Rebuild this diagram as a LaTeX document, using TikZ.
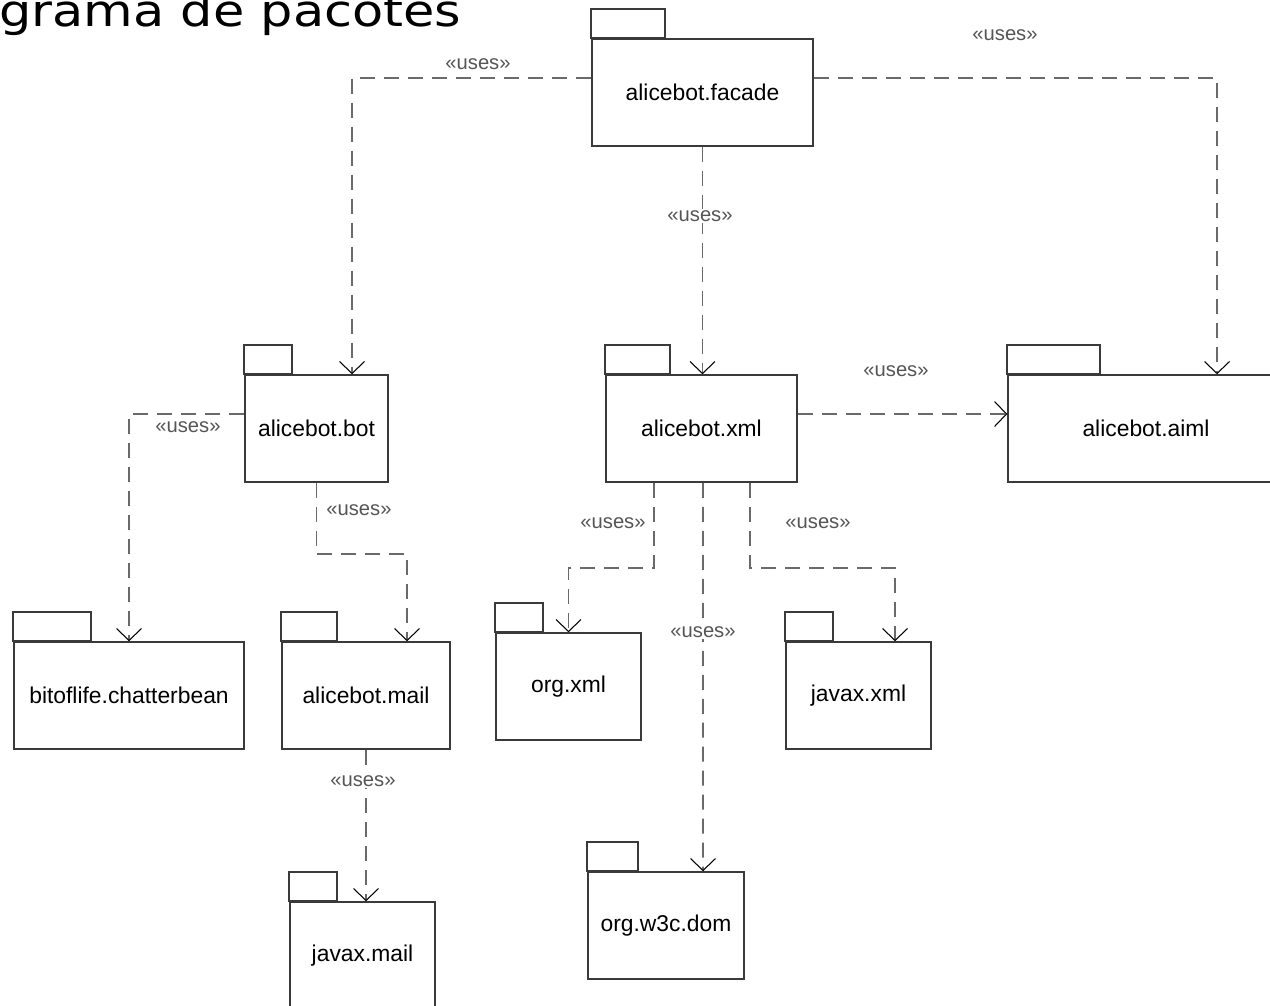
\documentclass[tikz,border=0pt]{standalone}
\usepackage{fontspec}
\setmainfont{Liberation Sans}
\newfontfamily\titlefont[FakeStretch=1.16]{DejaVu Sans}
\usetikzlibrary{positioning, calc, arrows.meta}
\definecolor{boxc}{HTML}{3A3A3A}
\definecolor{linec}{HTML}{6A6A6A}
\definecolor{lblc}{HTML}{555555}

\begin{document}
\begin{tikzpicture} [x=0.02cm, y=-0.02cm,
  pkg/.style={draw=boxc, line width=0.9pt, minimum width=#1*0.2mm, minimum height=21.4mm, inner sep=0, font=\fontsize{13}{15}\selectfont},
  tab/.style={draw=boxc, line width=0.9pt},
  uses/.style={draw=linec, line width=0.9pt, dash pattern=on 3mm off 1.8mm, -{Straight Barb[length=2.4mm, width=5mm, line width=0.6pt, color=black]}},
  lbl/.style={fill=white, text=lblc, inner sep=1pt, font=\fontsize{11.5}{13}\selectfont}]
  \useasboundingbox (0,0) rectangle (1270,1005);
  \clip (0,0) rectangle (1270,1005);

  \draw (-1,26) node[anchor=base west, inner sep=0, font=\titlefont\fontsize{25}{30}\selectfont](title) {grama de pacotes};

  \draw (702.5,92.5) node[pkg=221](fac)   {alicebot.facade};
  \draw (316.5,428.5) node[pkg=143](bot)  {alicebot.bot};
  \draw (701.5,428.5) node[pkg=191](xml)  {alicebot.xml};
  \draw (1146,428.5) node[pkg=276](aiml)  {alicebot.aiml};
  \draw (129,695.5)  node[pkg=230](chat)  {bitoflife.chatterbean};
  \draw (366,695.5)  node[pkg=168](mail)  {alicebot.mail};
  \draw (362.5,955.5) node[pkg=145](jmail) {javax.mail};
  \draw (568.5,686.5) node[pkg=145](oxml) {org.xml};
  \draw (858.5,695.5) node[pkg=145](jxml) {javax.xml};
  \draw (666,925.5)  node[pkg=156](dom)   {org.w3c.dom};

  \foreach \n/\w in {fac/74, bot/48, xml/65, aiml/93, chat/78, mail/56, jmail/48, oxml/48, jxml/48, dom/51}
    \draw[tab] (\n.north west) rectangle ++(\w,-29);

  \draw[uses] ($(fac.west)+(0,-14.5)$) -| ($(bot.north)+(35.5,0)$);
  \draw[uses] ($(fac.east)+(0,-14.5)$) -| ($(aiml.north)+(71,0)$);
  \draw[uses] (fac.south) -- (fac.south |- xml.north);
  \draw[uses] ($(xml.east)+(0,-14.5)$) -- ($(aiml.west)+(0,-14.5)$);
  \draw[uses] ($(bot.west)+(0,-14.5)$) -| (chat.north);
  \draw[uses] (bot.south) -- ++(0,71) -| ($(mail.north)+(41,0)$);
  \draw[uses] (mail.south) -- (mail.south |- jmail.north);
  \draw[uses] ($(xml.south)+(-47.5,0)$) -- ++(0,85) -| (oxml.north);
  \draw[uses] ($(xml.south)+(1.5,0)$) -- ($(dom.north)+(37,0)$);
  \draw[uses] ($(xml.south)+(48.5,0)$) -- ++(0,85) -| ($(jxml.north)+(36.5,0)$);

  \draw (478,64)  node[lbl](u1) {«uses»};
  \draw (1005,35) node[lbl](u2) {«uses»};
  \draw (700,216) node[lbl](u3) {«uses»};
  \draw (896,371) node[lbl](u4) {«uses»};
  \draw (188,427) node[lbl](u5) {«uses»};
  \draw (359,510) node[lbl](u6) {«uses»};
  \draw (363,781) node[lbl](u7) {«uses»};
  \draw (613,523) node[lbl](u8) {«uses»};
  \draw (703,632) node[lbl](u9) {«uses»};
  \draw (818,523) node[lbl](u10) {«uses»};
\end{tikzpicture}
\end{document}
